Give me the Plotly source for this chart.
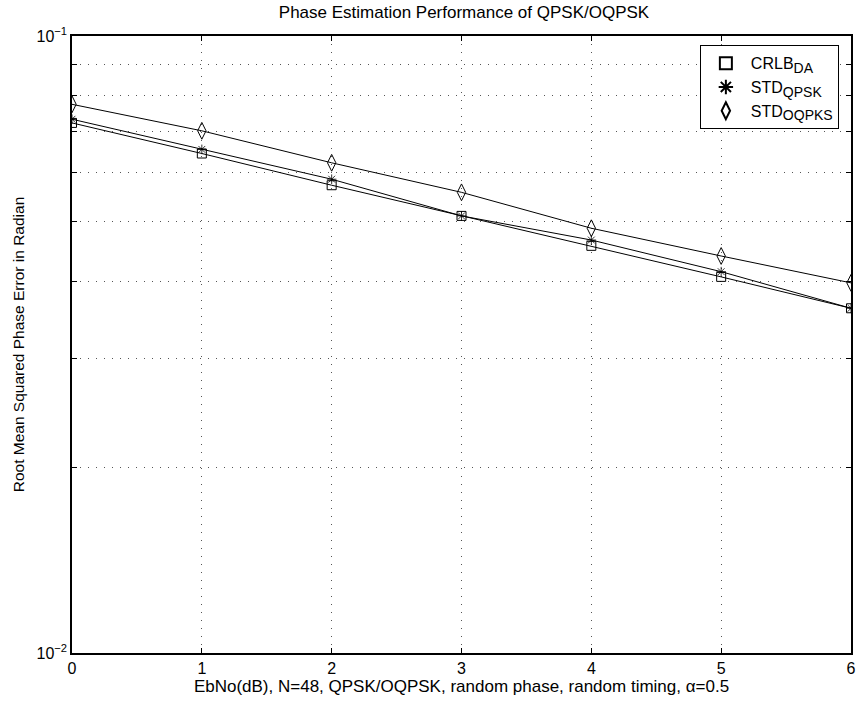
import plotly.graph_objects as go

# Eb/No points (dB)
ebno_db = [0, 1, 2, 3, 4, 5, 6]

# RMS phase error (radian)
crlb_da = [0.0723, 0.0645, 0.0573, 0.0511, 0.0457, 0.0407, 0.0362]
std_qpsk = [0.0733, 0.0655, 0.0586, 0.0511, 0.0467, 0.0415, 0.0362]
std_oqpsk = [0.0775, 0.0702, 0.0623, 0.0558, 0.0488, 0.0440, 0.0398]

SUB = '<sub><span style="font-size:14px">{}</span></sub>'
series = [
    ("CRLB" + SUB.format("DA"), crlb_da, "square-open", 9, 1),
    ("STD" + SUB.format("QPSK"), std_qpsk, "asterisk-open", 8, 0.8),
    ("STD" + SUB.format("OQPKS"), std_oqpsk, "diamond-tall-open", 12, 1),
]

y_tickvals = [k / 100 for k in range(1, 11)]
y_ticktext = ["10<sup>−2</sup>"] + [""] * 8 + ["10<sup>−1</sup>"]
x_tickvals = [0, 1, 2, 3, 4, 5, 6]

fig = go.Figure()

# connecting lines (not in legend)
for name, vals, sym, sz, lw in series:
    fig.add_trace(go.Scatter(
        x=ebno_db, y=vals, mode="lines",
        line=dict(color="black", width=1),
        showlegend=False, hoverinfo="skip",
    ))

# markers (legend entries)
for name, vals, sym, sz, lw in series:
    fig.add_trace(go.Scatter(
        x=ebno_db, y=vals, mode="markers", name=name,
        marker=dict(symbol=sym, size=sz, color="black",
                    line=dict(color="black", width=lw)),
    ))

font_family = "Liberation Sans, Arial, Helvetica, sans-serif"

fig.update_layout(
    width=867, height=708,
    margin=dict(l=72, r=11, t=36, b=55),
    paper_bgcolor="white", plot_bgcolor="white",
    font=dict(family=font_family, color="black", size=14),
    title=dict(
        text="Phase Estimation Performance of QPSK/OQPSK",
        x=(72 + 856) / 2 / 867, xanchor="center",
        y=1 - 12 / 708, yanchor="middle", yref="container",
        font=dict(size=17),
    ),
    showlegend=True,
    legend=dict(
        x=0.806, y=0.985, xanchor="left", yanchor="top",
        bgcolor="white", bordercolor="black", borderwidth=1,
        font=dict(size=16), tracegroupgap=0, itemsizing="constant",
        itemwidth=40, entrywidth=110,
    ),
    xaxis=dict(
        range=[0, 6], tickvals=x_tickvals,
        ticks="inside", ticklen=5, tickcolor="black",
        showline=True, linecolor="black", linewidth=1.5, mirror="allticks",
        showgrid=True, gridcolor="#555", gridwidth=1, griddash="1px,7px",
        zeroline=False,
        tickfont=dict(size=16),
        title=dict(text="EbNo(dB), N=48, QPSK/OQPSK, random phase, random timing, α=0.5",
                   font=dict(size=17), standoff=2),
    ),
    yaxis=dict(
        type="log", range=[-2, -1],
        tickvals=y_tickvals, ticktext=y_ticktext,
        ticks="inside", ticklen=5, tickcolor="black",
        showline=True, linecolor="black", linewidth=1.5, mirror="allticks",
        showgrid=True, gridcolor="#555", gridwidth=1, griddash="1px,7px",
        zeroline=False,
        tickfont=dict(size=16),
        title=dict(text="Root Mean Squared Phase Error in Radian",
                   font=dict(size=15.5), standoff=8),
    ),
)

fig.write_html("out.html")
